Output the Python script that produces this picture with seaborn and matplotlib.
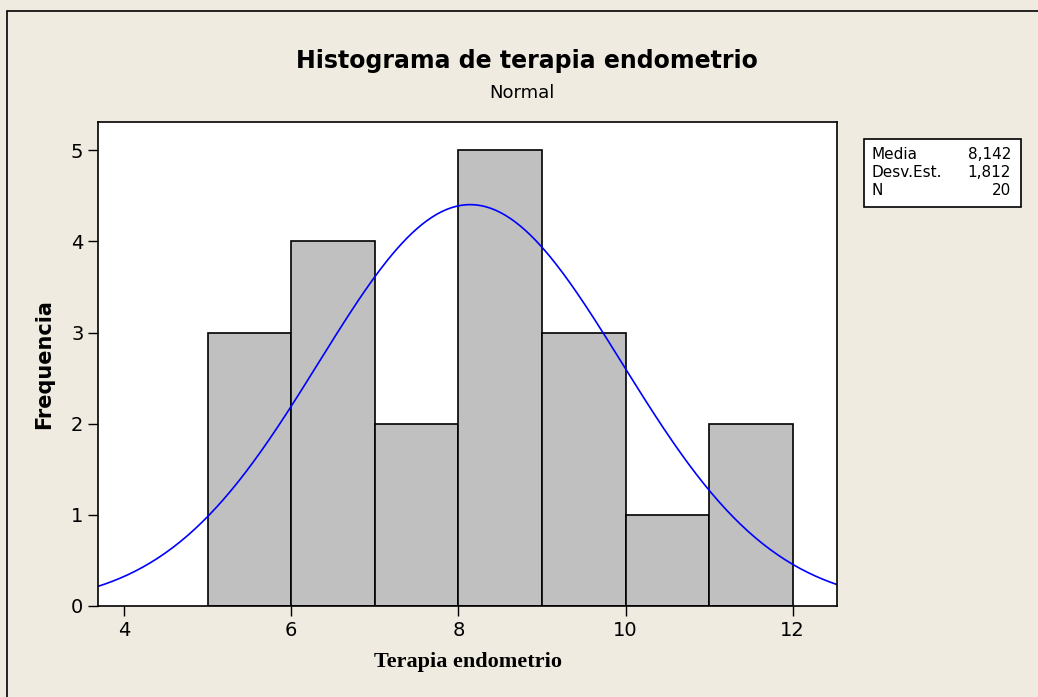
import numpy as np
import pandas as pd
import seaborn as sns
import matplotlib.pyplot as plt
from matplotlib.patches import Rectangle

# histogram data
bin_edges = [5, 6, 7, 8, 9, 10, 11, 12]
bin_mids = [5.5, 6.5, 7.5, 8.5, 9.5, 10.5, 11.5]
counts = [3, 4, 2, 5, 3, 1, 2]

# fitted normal from the stats box
media = 8.142
desv = 1.812
n = 20

stat_names = ["Media", "Desv.Est.", "N"]
stat_values = ["8,142", "1,812", "20"]

bg = "#EFEBE1"

sns.set_style("white")
plt.rcParams["font.family"] = ["DejaVu Sans"]
plt.rcParams["text.color"] = "black"
plt.rcParams["axes.labelcolor"] = "black"

fig = plt.figure(figsize=(10.38, 6.97), dpi=100, facecolor=bg)
ax = fig.add_axes([0.0944, 0.1306, 0.712, 0.6944])
ax.set_facecolor("white")

df = pd.DataFrame({"x": bin_mids, "w": counts})
sns.histplot(data=df, x="x", weights="w", bins=bin_edges, ax=ax,
             color="#C0C0C0", edgecolor="black", linewidth=1.2, alpha=1)

# normal curve, scaled to counts (bin width 1)
xs = np.linspace(3.69, 12.53, 300)
ys = n * 1.0 / (desv * np.sqrt(2 * np.pi)) * np.exp(-0.5 * ((xs - media) / desv) ** 2)
sns.lineplot(x=xs, y=ys, ax=ax, color="#0000FF", linewidth=1.2)

ax.set_xlim(3.69, 12.53)
ax.set_ylim(0, 5.31)
ax.set_xticks([4, 6, 8, 10, 12])
ax.set_yticks([0, 1, 2, 3, 4, 5])
ax.tick_params(axis="both", direction="out", length=7, width=1, labelsize=14,
               colors="black", bottom=True, left=True)
for s in ax.spines.values():
    s.set_visible(True)
    s.set_color("black")
    s.set_linewidth(1.2)

ax.set_xlabel("Terapia endometrio", fontsize=16, fontweight="bold",
              family="Liberation Serif", labelpad=9)
ax.set_ylabel("Frequencia", fontsize=15, fontweight="bold", labelpad=12)

fig.text(0.508, 0.913, "Histograma de terapia endometrio", ha="center",
         va="center", fontsize=17, fontweight="bold")
fig.text(0.503, 0.866, "Normal", ha="center", va="center", fontsize=13)

# stats box
fig.patches.append(Rectangle((0.8324, 0.703), 0.1512, 0.0976, transform=fig.transFigure,
                             facecolor="white", edgecolor="black", linewidth=1.2))
row_y = [0.778, 0.752, 0.726]
for name, val, yy in zip(stat_names, stat_values, row_y):
    fig.text(0.840, yy, name, ha="left", va="center", fontsize=11)
    fig.text(0.974, yy, val, ha="right", va="center", fontsize=11)

# outer frame (top and left visible)
fig.patches.append(Rectangle((0.0068, -0.1), 1.2, 1.0842, transform=fig.transFigure,
                             facecolor="none", edgecolor="black", linewidth=1.2))

plt.savefig("out.png", dpi=100, facecolor=bg)
